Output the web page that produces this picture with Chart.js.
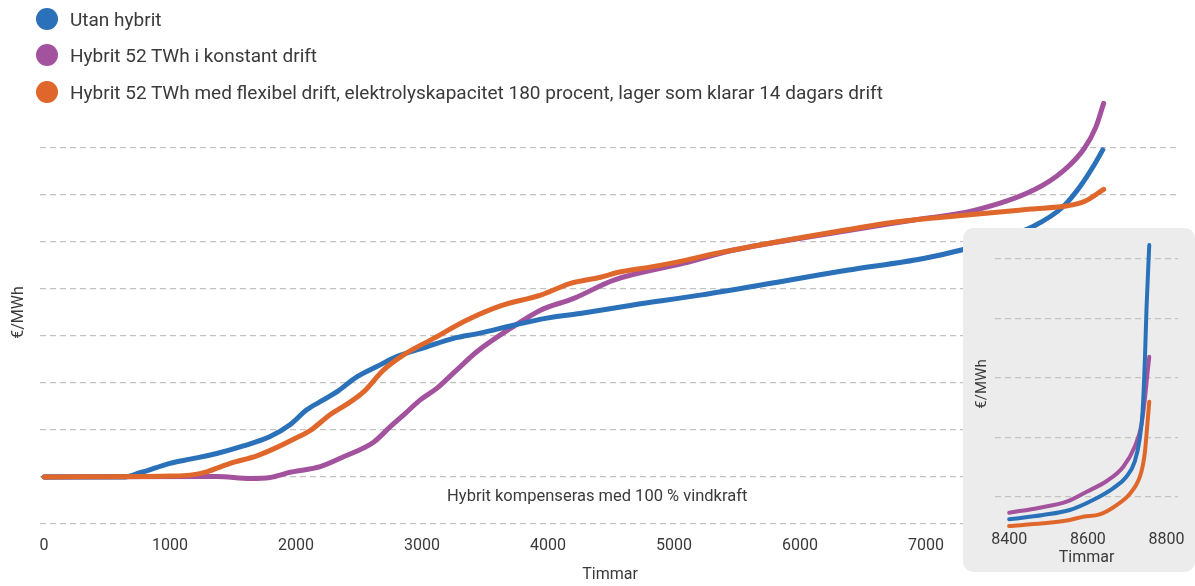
<!DOCTYPE html>
<html><head><meta charset="utf-8">
<script src="https://cdn.jsdelivr.net/npm/chart.js@4.4.1/dist/chart.umd.min.js"></script>
<style>
html,body{margin:0;padding:0;background:#fff;}
body{width:1195px;height:586px;position:relative;overflow:hidden;font-family:Roboto,"Noto Sans",sans-serif;color:#3a3a3a;}
#main{position:absolute;left:0;top:0;}
.item{position:absolute;left:36px;height:24px;display:flex;align-items:center;font-size:19px;white-space:nowrap;}
.dot{width:22px;height:22px;border-radius:50%;margin-right:12px;flex:none;}
#insetBox{position:absolute;left:963px;top:228px;width:232px;height:344px;background:#ececec;border-radius:10px;}
#inset{position:absolute;left:0;top:0;}
</style>
</head><body>
<canvas id="main" width="1195" height="586"></canvas>
<div id="legend"></div>
<div id="insetBox"><canvas id="inset" width="232" height="344"></canvas></div>
<script>
// ---- data ----
const seriesNames = ['Utan hybrit', 'Hybrit 52 TWh i konstant drift', 'Hybrit 52 TWh med flexibel drift, elektrolyskapacitet 180 procent, lager som klarar 14 dagars drift'];
const seriesColors = ['#2a71b9', '#a3529d', '#e0672b'];

const blueHours = [0, 627, 762, 1000, 1159, 1371, 1582, 1794, 1952, 2085, 2217, 2323, 2482, 2641, 2799, 3037, 3249, 3460, 3725, 3990, 4254, 4675, 5207, 6000, 6371, 6979, 7296, 7600, 7849, 8087, 8222, 8325, 8402];
const bluePrice = [10.0, 10.0, 10.9, 12.9, 13.8, 15.0, 16.6, 18.6, 21.1, 24.3, 26.4, 28.1, 31.3, 33.5, 35.6, 37.7, 39.5, 40.6, 42.3, 43.8, 44.8, 46.6, 48.7, 52.3, 54.0, 56.5, 58.4, 60.8, 63.3, 67.5, 71.8, 76.0, 79.6];

const purpleHours = [0, 1371, 1635, 1794, 1952, 2192, 2377, 2615, 2748, 2854, 2986, 3119, 3276, 3437, 3701, 3940, 4204, 4522, 5078, 5475, 6005, 6905, 7381, 7858, 8096, 8255, 8348, 8409];
const purplePrice = [10.0, 10.1, 9.7, 9.9, 11.0, 12.2, 14.3, 17.4, 20.7, 23.2, 26.4, 28.9, 32.8, 36.7, 41.6, 45.5, 48.0, 51.9, 55.5, 58.3, 60.8, 64.7, 66.7, 71.1, 75.3, 79.9, 84.5, 89.5];

const orangeHours = [0, 1000, 1159, 1291, 1477, 1689, 1848, 2007, 2113, 2272, 2404, 2536, 2695, 2854, 3092, 3357, 3622, 3940, 4072, 4178, 4416, 4549, 4819, 5105, 5264, 6000, 6371, 6773, 7302, 7831, 8123, 8255, 8409];
const orangePrice = [10.0, 10.2, 10.4, 11.1, 12.9, 14.5, 16.3, 18.4, 19.9, 23.3, 25.5, 28.1, 32.8, 36.0, 39.5, 43.4, 46.4, 48.7, 50.1, 51.2, 52.5, 53.5, 54.7, 56.2, 57.2, 60.9, 62.6, 64.3, 65.7, 67.0, 67.7, 68.6, 71.2];

const insetBlueHours = [8400, 8486, 8554, 8613, 8664, 8698, 8719, 8732, 8739, 8745, 8749, 8756];
const insetBluePrice = [79.7, 85.5, 92.2, 105.7, 121.4, 137.0, 157.2, 188.6, 224.4, 296.2, 363.5, 448.6];
const insetPurpleHours = [8400, 8478, 8546, 8597, 8648, 8690, 8719, 8736, 8745, 8751, 8756];
const insetPurplePrice = [88.6, 95.3, 103.4, 116.8, 131.2, 150.4, 177.3, 206.5, 242.4, 273.8, 298.4];
const insetOrangeHours = [8400, 8486, 8554, 8588, 8630, 8673, 8711, 8736, 8745, 8751, 8756];
const insetOrangePrice = [70.7, 74.3, 78.8, 83.2, 86.4, 98.9, 116.8, 143.7, 170.6, 206.5, 237.9];

const mainXTicks = [0, 1000, 2000, 3000, 4000, 5000, 6000, 7000, 8000];
const mainYGrid = [0, 10, 20, 30, 40, 50, 60, 70, 80];
const insetXTicks = [8400, 8600, 8800];
const insetYGrid = [110, 190, 270, 350, 430];

const noteText = 'Hybrit kompenseras med 100 % vindkraft';
const noteHour = 4390, notePrice = 5.7;
const xTitle = 'Timmar', yTitle = '€/MWh';

// ---- legend ----
const legend = document.getElementById('legend');
const legendTops = [7, 43, 80];
seriesNames.forEach((n, i) => {
  const d = document.createElement('div');
  d.className = 'item';
  d.style.top = legendTops[i] + 'px';
  d.innerHTML = '<span class="dot" style="background:' + seriesColors[i] + '"></span><span>' + n + '</span>';
  legend.appendChild(d);
});

const pts = (xs, ys) => xs.map((x, i) => ({x: x, y: ys[i]}));
const TXT = '#3a3a3a';
const GRID = '#c2c2c2';
const FONT = 'Roboto';
const plain = v => String(v);

function ds(label, xs, ys, color, order, w) {
  return {label, data: pts(xs, ys), borderColor: color, backgroundColor: color, borderWidth: w,
    pointRadius: 0, cubicInterpolationMode: 'monotone', borderCapStyle: 'round', borderJoinStyle: 'round', order, fill: false};
}

const notePlugin = {
  id: 'note',
  afterDatasetsDraw(chart) {
    const {ctx, scales: {x, y}} = chart;
    ctx.save();
    ctx.font = '16.5px ' + FONT;
    ctx.fillStyle = TXT;
    ctx.textAlign = 'center';
    ctx.textBaseline = 'middle';
    ctx.fillText(noteText, x.getPixelForValue(noteHour), y.getPixelForValue(notePrice));
    ctx.restore();
  }
};

Chart.defaults.font.family = FONT;
Chart.defaults.color = TXT;

new Chart(document.getElementById('main'), {
  type: 'line',
  data: {datasets: [
    ds(seriesNames[0], blueHours, bluePrice, seriesColors[0], 1, 5),
    ds(seriesNames[1], purpleHours, purplePrice, seriesColors[1], 2, 5),
    ds(seriesNames[2], orangeHours, orangePrice, seriesColors[2], 0, 5)
  ]},
  options: {
    responsive: false, animation: false,
    layout: {padding: {top: 101, right: 15, left: 0, bottom: 0}},
    plugins: {legend: {display: false}, tooltip: {enabled: false}},
    scales: {
      x: {type: 'linear', min: -32, max: 9015,
        afterBuildTicks: s => { s.ticks = mainXTicks.map(v => ({value: v})); },
        afterFit: s => { s.height = 62; },
        grid: {display: false, drawTicks: false}, border: {display: false},
        ticks: {autoSkip: false, maxRotation: 0, padding: 12, color: TXT, font: {size: 16}, callback: plain},
        title: {display: true, text: xTitle, color: TXT, font: {size: 16}, padding: {top: 0, bottom: 1}}
      },
      y: {type: 'linear', min: 0, max: 90,
        afterBuildTicks: s => { s.ticks = mainYGrid.map(v => ({value: v})); },
        afterFit: s => { s.width = 40; },
        ticks: {display: false},
        grid: {color: GRID, lineWidth: 1.3, drawTicks: false},
        border: {display: false, dash: [6, 4]},
        title: {display: true, text: yTitle, color: TXT, font: {size: 16}, padding: {top: 9, bottom: 0}}
      }
    }
  },
  plugins: [notePlugin]
});

new Chart(document.getElementById('inset'), {
  type: 'line',
  data: {datasets: [
    ds(seriesNames[0], insetBlueHours, insetBluePrice, seriesColors[0], 1, 4),
    ds(seriesNames[1], insetPurpleHours, insetPurplePrice, seriesColors[1], 2, 4),
    ds(seriesNames[2], insetOrangeHours, insetOrangePrice, seriesColors[2], 0, 4)
  ]},
  options: {
    responsive: false, animation: false,
    layout: {padding: {top: 12, right: 17, left: 0, bottom: 0}},
    plugins: {legend: {display: false}, tooltip: {enabled: false}},
    scales: {
      x: {type: 'linear', min: 8364, max: 8829,
        afterBuildTicks: s => { s.ticks = insetXTicks.map(v => ({value: v})); },
        afterFit: s => { s.height = 44; },
        grid: {display: false, drawTicks: false}, border: {display: false},
        ticks: {autoSkip: false, maxRotation: 0, padding: 2, color: TXT, font: {size: 16}, callback: plain},
        title: {display: true, text: xTitle, color: TXT, font: {size: 16}, padding: {top: 0, bottom: 4}}
      },
      y: {type: 'linear', min: 68, max: 455.3,
        afterBuildTicks: s => { s.ticks = insetYGrid.map(v => ({value: v})); },
        afterFit: s => { s.width = 32; },
        ticks: {display: false},
        grid: {color: GRID, lineWidth: 1.3, drawTicks: false},
        border: {display: false, dash: [6, 4]},
        title: {display: true, text: yTitle, color: TXT, font: {size: 15}, padding: {top: 10, bottom: 0}}
      }
    }
  }
});
</script>
</body></html>
